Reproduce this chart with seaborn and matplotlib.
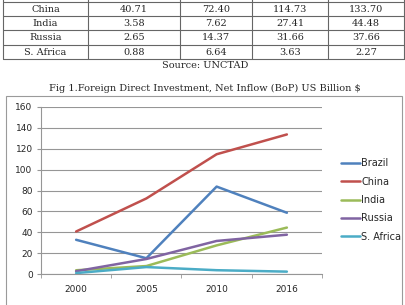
import matplotlib
matplotlib.use("Agg")
import matplotlib.pyplot as plt
import seaborn as sns
import pandas as pd
from matplotlib.lines import Line2D
from matplotlib.patches import Rectangle

# ---- data ----
countries = ["Brazil", "China", "India", "Russia", "S. Africa"]
years = ["2000", "2005", "2010", "2016"]
brazil = [32.78, 15.10, 83.75, 58.68]
china = [40.71, 72.40, 114.73, 133.70]
india = [3.58, 7.62, 27.41, 44.48]
russia = [2.65, 14.37, 31.66, 37.66]
safrica = [0.88, 6.64, 3.63, 2.27]
table_rows = ["China", "India", "Russia", "S. Africa"]
colors = ["#4F81BD", "#C0504D", "#9BBB59", "#8064A2", "#4BACC6"]
yticks = [0, 20, 40, 60, 80, 100, 120, 140, 160]
source_text = "Source: UNCTAD"
caption = "Fig 1.Foreign Direct Investment, Net Inflow (BoP) US Billion $"

series = {"Brazil": brazil, "China": china, "India": india,
          "Russia": russia, "S. Africa": safrica}
df = pd.DataFrame([{"Year": y, "Country": c, "Value": v}
                   for c in countries for y, v in zip(years, series[c])])

sns.set_style("white")
W, H = 406, 305
fig = plt.figure(figsize=(W / 100, H / 100), dpi=100)

def fx(px):
    return px / W

def fy(py):
    return 1 - py / H

# ---- table (figure-level overlay) ----
serif = ["DejaVu Serif"]
col_x = [3, 88, 180, 252, 328, 404]
row_y = [2, 16, 30, 45, 59]
lc = "#666666"
for x in col_x:
    fig.add_artist(Line2D([fx(x), fx(x)], [fy(-5), fy(row_y[-1])], color=lc, lw=0.8))
for y in row_y:
    fig.add_artist(Line2D([fx(col_x[0]), fx(col_x[-1])], [fy(y), fy(y)], color=lc, lw=0.8))
for i, name in enumerate(table_rows):
    yc = (row_y[i] + row_y[i + 1]) / 2 + 0.5
    fig.text(fx((col_x[0] + col_x[1]) / 2), fy(yc), name, ha="center", va="center",
             fontsize=7, family=serif)
    vals = series[name]
    for j, v in enumerate(vals):
        fig.text(fx((col_x[j + 1] + col_x[j + 2]) / 2), fy(yc), f"{v:.2f}",
                 ha="center", va="center", fontsize=7, family=serif)
fig.text(fx(205), fy(65), source_text, ha="center", va="center", fontsize=7, family=serif)
fig.text(fx(205), fy(88), caption, ha="center", va="center", fontsize=7, family=serif)

# chart box
fig.add_artist(Rectangle((fx(6), fy(320)), fx(402) - fx(6), fy(96) - fy(320),
                         fill=False, edgecolor="#9a9a9a", lw=0.8))

# ---- chart ----
ax = fig.add_axes([fx(41), fy(274), fx(322) - fx(41), fy(107) - fy(274)])
sns.lineplot(data=df, x="Year", y="Value", hue="Country", palette=colors,
             hue_order=countries, linewidth=1.8, ax=ax, legend=False, sort=False)
ax.set_xlim(-0.5, len(years) - 0.5)
ax.set_ylim(0, 160)
ax.set_yticks(yticks)
ax.set_yticklabels([str(t) for t in yticks])
ax.set_xticks(range(len(years)))
ax.set_xticklabels(years)
ax.set_xlabel("")
ax.set_ylabel("")
ax.yaxis.grid(True, color="#969696", lw=0.8)
ax.xaxis.grid(False)
for s in ["top", "right"]:
    ax.spines[s].set_visible(False)
for s in ["left", "bottom"]:
    ax.spines[s].set_color("#969696")
    ax.spines[s].set_linewidth(0.8)
ax.tick_params(axis="y", length=3, color="#969696", labelsize=6.5, pad=3, left=True)
ax.tick_params(axis="x", length=0, labelsize=6.5, pad=8)
# category boundary tick marks
ax.set_xticks([i - 0.5 for i in range(len(years) + 1)], minor=True)
ax.tick_params(axis="x", which="minor", length=3, color="#969696", bottom=True)

handles = [Line2D([], [], color=c, lw=1.8) for c in colors]
fig.legend(handles, countries, loc="center left", bbox_to_anchor=(fx(336), fy(200)),
           frameon=False, fontsize=7, handlelength=2.0, handletextpad=0.1,
           labelspacing=0.86, borderpad=0)

fig.savefig("out.png", dpi=100)
